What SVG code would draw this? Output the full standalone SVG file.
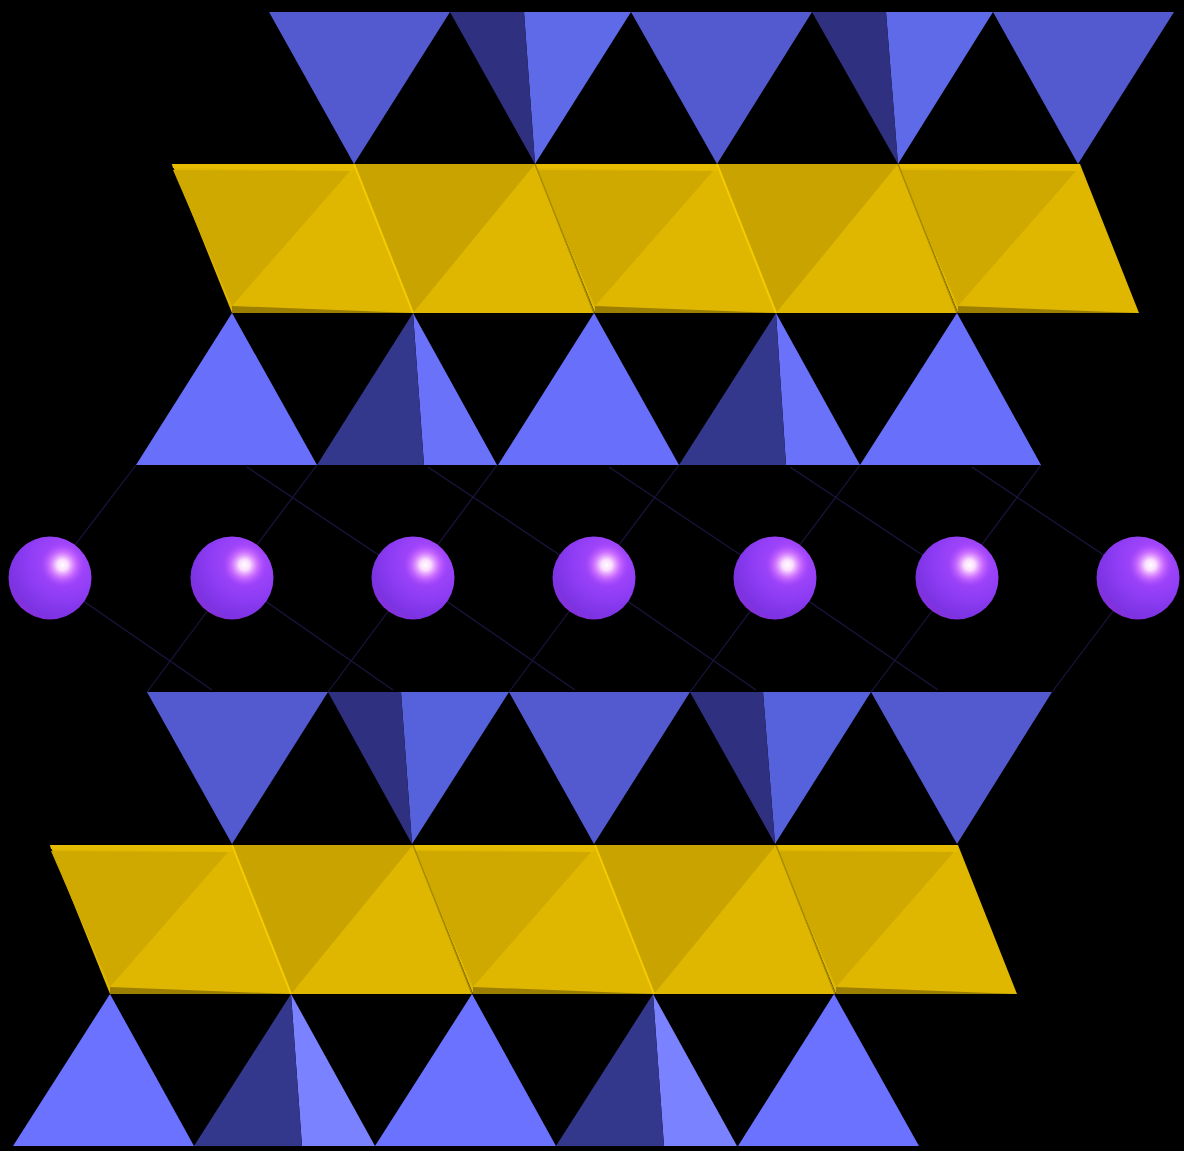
<svg xmlns="http://www.w3.org/2000/svg" xmlns:xlink="http://www.w3.org/1999/xlink" width="1184" height="1151" viewBox="0 0 1184 1151">
<style>
.t1{fill:#5359cf}.t1l{fill:#5f6ae8}.d{fill:#2f3180}
.t2{fill:#6870fb}.t2l{fill:#6a72fa}.d2{fill:#33388c}
.t3l{fill:#5562dc}.t4{fill:#6a72ff}.t4l{fill:#7a82ff}
.bond{stroke:#1b1540;stroke-width:1.2;fill:none}
.ybase{fill:#dfb700}.ydark{fill:#cfa900}.ydark2{fill:#c9a400}.ytop{fill:#e6bc00}.ybot{fill:#9c7f00}
.ysh{stroke:#a88c00;stroke-width:1.5}.ybr{stroke:#f5cc00;stroke-width:2}
</style>
<defs>
<radialGradient id="body" cx="0.68" cy="0.3" r="0.8">
<stop offset="0" stop-color="#b04cff"/><stop offset="0.55" stop-color="#8f3df5"/><stop offset="0.85" stop-color="#7c33e2"/><stop offset="1" stop-color="#8a2fd8"/>
</radialGradient>
<radialGradient id="spec">
<stop offset="0" stop-color="#fff"/><stop offset="0.25" stop-color="#fbdcff"/><stop offset="0.6" stop-color="#d97cff" stop-opacity="0.7"/><stop offset="1" stop-color="#b04cff" stop-opacity="0"/>
</radialGradient>
<g id="sphere"><circle r="41.5" fill="url(#body)"/><circle cx="12.5" cy="-13" r="22" fill="url(#spec)"/></g>
<g id="octA">
<polygon class="ybase" points="0,0 182,0 241,149 60,149"/>
<polygon class="ytop" points="0,0 182,0 182,7 1,4"/>
<polygon class="ydark" points="1,6 178,7 60,142"/>
<polygon class="ybot" points="60,142 241,149 60,149"/>
</g>
<g id="octB">
<polygon class="ybase" points="0,0 181,0 240,149 59,149"/>
<polygon class="ydark2" points="0,0 181,0 59,149"/>
<line class="ybr" x1="0" y1="0" x2="59" y2="149"/>
</g>
<g id="band">
<use xlink:href="#octA" x="0" y="0"/>
<use xlink:href="#octA" x="363" y="0"/>
<use xlink:href="#octA" x="726" y="0"/>
<use xlink:href="#octB" x="182" y="0"/>
<use xlink:href="#octB" x="545" y="0"/>
<line class="ysh" x1="363" y1="0" x2="422" y2="149"/>
<line class="ysh" x1="726" y1="0" x2="785" y2="149"/>
</g>
</defs>
<rect width="1184" height="1151" fill="#000"/>
<g id="connectors">
<path class="bond" d="M136,465L50,578M317,465L232,578M497,465L413,578M679,465L594,578M860,465L775,578M1041,465L957,578"/>
<path class="bond" d="M247,467L413,578M428,467L594,578M609,467L775,578M790,467L957,578M972,467L1138,578"/>
<path class="bond" d="M50,578L212,690M232,578L393,690M413,578L575,690M594,578L756,690M775,578L938,690"/>
<path class="bond" d="M232,578L147,692M413,578L328,692M594,578L509,692M775,578L690,692M957,578L871,692M1138,578L1052,692"/>
</g>
<g id="row1">
<polygon class="t1" points="269,12 450,12 354,164"/>
<g><polygon class="t1l" points="524,12 631,12 535,164"/><polygon class="d" points="450,12 524,12 535,164"/></g>
<polygon class="t1" points="631,12 812,12 717,164"/>
<g><polygon class="t1l" points="886,12 993,12 898,164"/><polygon class="d" points="812,12 886,12 898,164"/></g>
<polygon class="t1" points="993,12 1174,12 1078,164"/>
</g>
<g id="band1" transform="translate(172,164)"><use xlink:href="#band"/></g>
<g id="row2">
<polygon class="t2" points="136,465 317,465 232,313"/>
<g><polygon class="t2l" points="424,465 497,465 413,313"/><polygon class="d2" points="317,465 424,465 413,313"/></g>
<polygon class="t2" points="498,465 679,465 594,313"/>
<g><polygon class="t2l" points="786,465 860,465 776,313"/><polygon class="d2" points="679,465 786,465 776,313"/></g>
<polygon class="t2" points="860,465 1041,465 957,313"/>
</g>
<g id="spheres">
<use id="s1" xlink:href="#sphere" x="50" y="578"/>
<use id="s2" xlink:href="#sphere" x="232" y="578"/>
<use id="s3" xlink:href="#sphere" x="413" y="578"/>
<use id="s4" xlink:href="#sphere" x="594" y="578"/>
<use id="s5" xlink:href="#sphere" x="775" y="578"/>
<use id="s6" xlink:href="#sphere" x="957" y="578"/>
<use id="s7" xlink:href="#sphere" x="1138" y="578"/>
</g>
<g id="row3">
<polygon class="t1" points="147,692 328,692 232,844"/>
<g><polygon class="t3l" points="401,692 509,692 412,844"/><polygon class="d" points="328,692 401,692 412,844"/></g>
<polygon class="t1" points="509,692 690,692 594,844"/>
<g><polygon class="t3l" points="763,692 871,692 775,844"/><polygon class="d" points="690,692 763,692 775,844"/></g>
<polygon class="t1" points="871,692 1052,692 957,844"/>
</g>
<g id="band2" transform="translate(50,845)"><use xlink:href="#band"/></g>
<g id="row4">
<polygon class="t4" points="13,1146 194,1146 110,994"/>
<g><polygon class="t4l" points="302,1146 375,1146 291,994"/><polygon class="d2" points="194,1146 302,1146 291,994"/></g>
<polygon class="t4" points="375,1146 556,1146 472,994"/>
<g><polygon class="t4l" points="664,1146 737,1146 653,994"/><polygon class="d2" points="556,1146 664,1146 653,994"/></g>
<polygon class="t4" points="738,1146 919,1146 834,994"/>
</g>
</svg>
